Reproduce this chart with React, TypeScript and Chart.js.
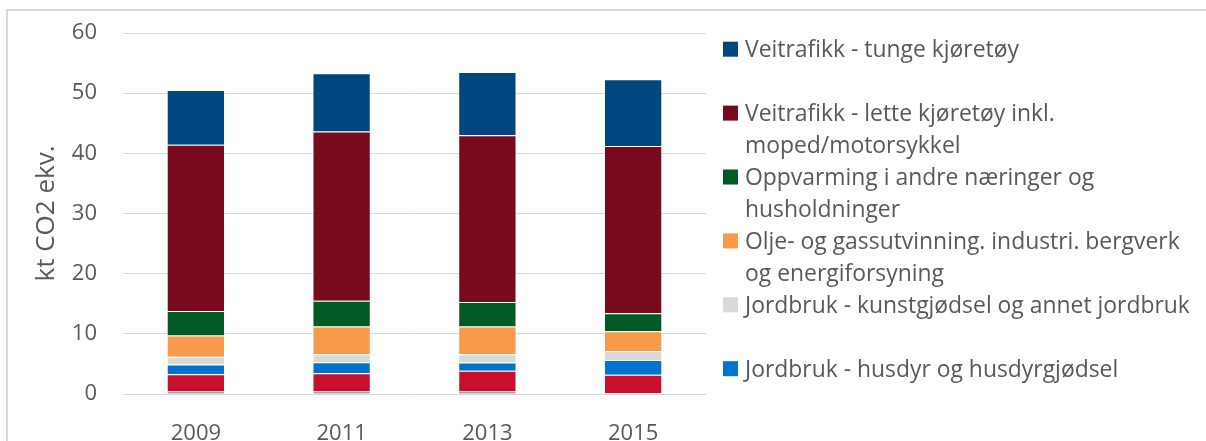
import React, { useEffect, useRef } from 'react';
import { Chart, registerables } from 'chart.js';

Chart.register(...registerables);

const years = ['2009', '2011', '2013', '2015'];

// stacked segments, bottom to top
const avfall = [0.4, 0.4, 0.4, 0.12];
const annenMobil = [2.9, 3.05, 3.45, 3.1];
const husdyr = [1.6, 1.83, 1.37, 2.45];
const kunstgjodsel = [1.28, 1.33, 1.4, 1.49];
const industri = [3.54, 4.6, 4.6, 3.28];
const oppvarming = [4.06, 4.3, 4.06, 3.0];
const lette = [27.64, 28.1, 27.74, 27.77];
const tunge = [9.1, 9.7, 10.5, 11.1];

const yMin = 0;
const yMax = 60;
const yStep = 10;

const FONT = '"Open Sans", "Noto Sans", sans-serif';
const TEXT = '#595959';

const series = [
  { label: 'Avfall og avløp', data: avfall, color: '#3c4650', legend: null as string[] | null },
  { label: 'Annen mobil forbrenning', data: annenMobil, color: '#c8102e', legend: null as string[] | null },
  { label: 'Jordbruk - husdyr og husdyrgjødsel', data: husdyr, color: '#0073cf', legend: ['Jordbruk - husdyr og husdyrgjødsel'] },
  { label: 'Jordbruk - kunstgjødsel og annet jordbruk', data: kunstgjodsel, color: '#d9d9d6', legend: ['Jordbruk - kunstgjødsel og annet jordbruk'] },
  { label: 'Olje- og gassutvinning. industri. bergverk og energiforsyning', data: industri, color: '#f79a4a', legend: ['Olje- og gassutvinning. industri. bergverk', 'og energiforsyning'] },
  { label: 'Oppvarming i andre næringer og husholdninger', data: oppvarming, color: '#005a23', legend: ['Oppvarming i andre næringer og', 'husholdninger'] },
  { label: 'Veitrafikk - lette kjøretøy inkl. moped/motorsykkel', data: lette, color: '#780a1e', legend: ['Veitrafikk - lette kjøretøy inkl.', 'moped/motorsykkel'] },
  { label: 'Veitrafikk - tunge kjøretøy', data: tunge, color: '#00467f', legend: ['Veitrafikk - tunge kjøretøy'] },
];

const framePlugin = {
  id: 'frameAndLegend',
  afterDraw(chart: any) {
    const ctx = chart.ctx as CanvasRenderingContext2D;
    ctx.save();
    ctx.strokeStyle = '#d9d9d9';
    ctx.lineWidth = 2;
    ctx.strokeRect(7, 10, 1400, 600);

    const items = series.filter((s) => s.legend).reverse();
    const legendFont = 22.9;
    ctx.font = `${legendFont}px ${FONT}`;
    ctx.textBaseline = 'alphabetic';
    ctx.textAlign = 'left';
    const slot = 63.9;
    const firstTop = 41.7;
    const boxX = chart.chartArea.right + 17;
    items.forEach((it, i) => {
      const top = firstTop + i * slot;
      ctx.fillStyle = it.color;
      ctx.fillRect(boxX, top, 15, 15);
      ctx.fillStyle = TEXT;
      (it.legend as string[]).forEach((line, j) => {
        ctx.fillText(line, boxX + 22, top + 15.4 + j * 32);
      });
    });
    ctx.restore();
  },
};

export default function App() {
  const ref = useRef<HTMLCanvasElement>(null);

  useEffect(() => {
    document.body.style.margin = '0';
    document.documentElement.style.overflow = 'hidden';
    document.body.style.background = '#ffffff';
    const canvas = ref.current;
    if (!canvas) return;
    const chart = new Chart(canvas, {
      type: 'bar',
      data: {
        labels: years,
        datasets: series.map((s) => ({
          label: s.label,
          data: s.data,
          backgroundColor: s.color,
          borderColor: 'rgba(255,255,255,0.35)',
          borderWidth: 1,
          barPercentage: 0.4,
          categoryPercentage: 1,
        })),
      },
      options: {
        responsive: false,
        animation: false,
        devicePixelRatio: 1,
        layout: { padding: { left: 0, top: 33, right: 500, bottom: 0 } },
        plugins: {
          legend: { display: false },
          tooltip: { enabled: false },
          title: { display: false },
        },
        scales: {
          x: {
            stacked: true,
            grid: { display: false, drawTicks: false },
            border: { display: false },
            ticks: {
              color: TEXT,
              font: { family: FONT, size: 22 },
              padding: 27,
              maxRotation: 0,
              autoSkip: false,
            },
            afterFit: (scale: any) => {
              scale.height = 47;
              scale.paddingLeft = 0;
              scale.paddingRight = 0;
            },
          },
          y: {
            stacked: true,
            min: yMin,
            max: yMax,
            grid: { color: '#d9d9d9', lineWidth: 1, drawTicks: false },
            border: { display: false },
            ticks: {
              stepSize: yStep,
              color: TEXT,
              font: { family: FONT, size: 22 },
              padding: 26,
            },
            title: {
              display: true,
              text: 'kt CO2 ekv.',
              color: TEXT,
              font: { family: FONT, size: 26 },
              padding: { top: 31, bottom: 0 },
            },
            afterFit: (scale: any) => {
              scale.width = 123;
              scale.paddingTop = 0;
              scale.paddingBottom = 0;
            },
          },
        },
      },
      plugins: [framePlugin],
    });
    return () => chart.destroy();
  }, []);

  return (
    <div style={{ width: 1206, height: 441, overflow: 'hidden' }}>
      <canvas ref={ref} width={1206} height={441} style={{ display: 'block', width: 1206, height: 441 }} />
    </div>
  );
}
